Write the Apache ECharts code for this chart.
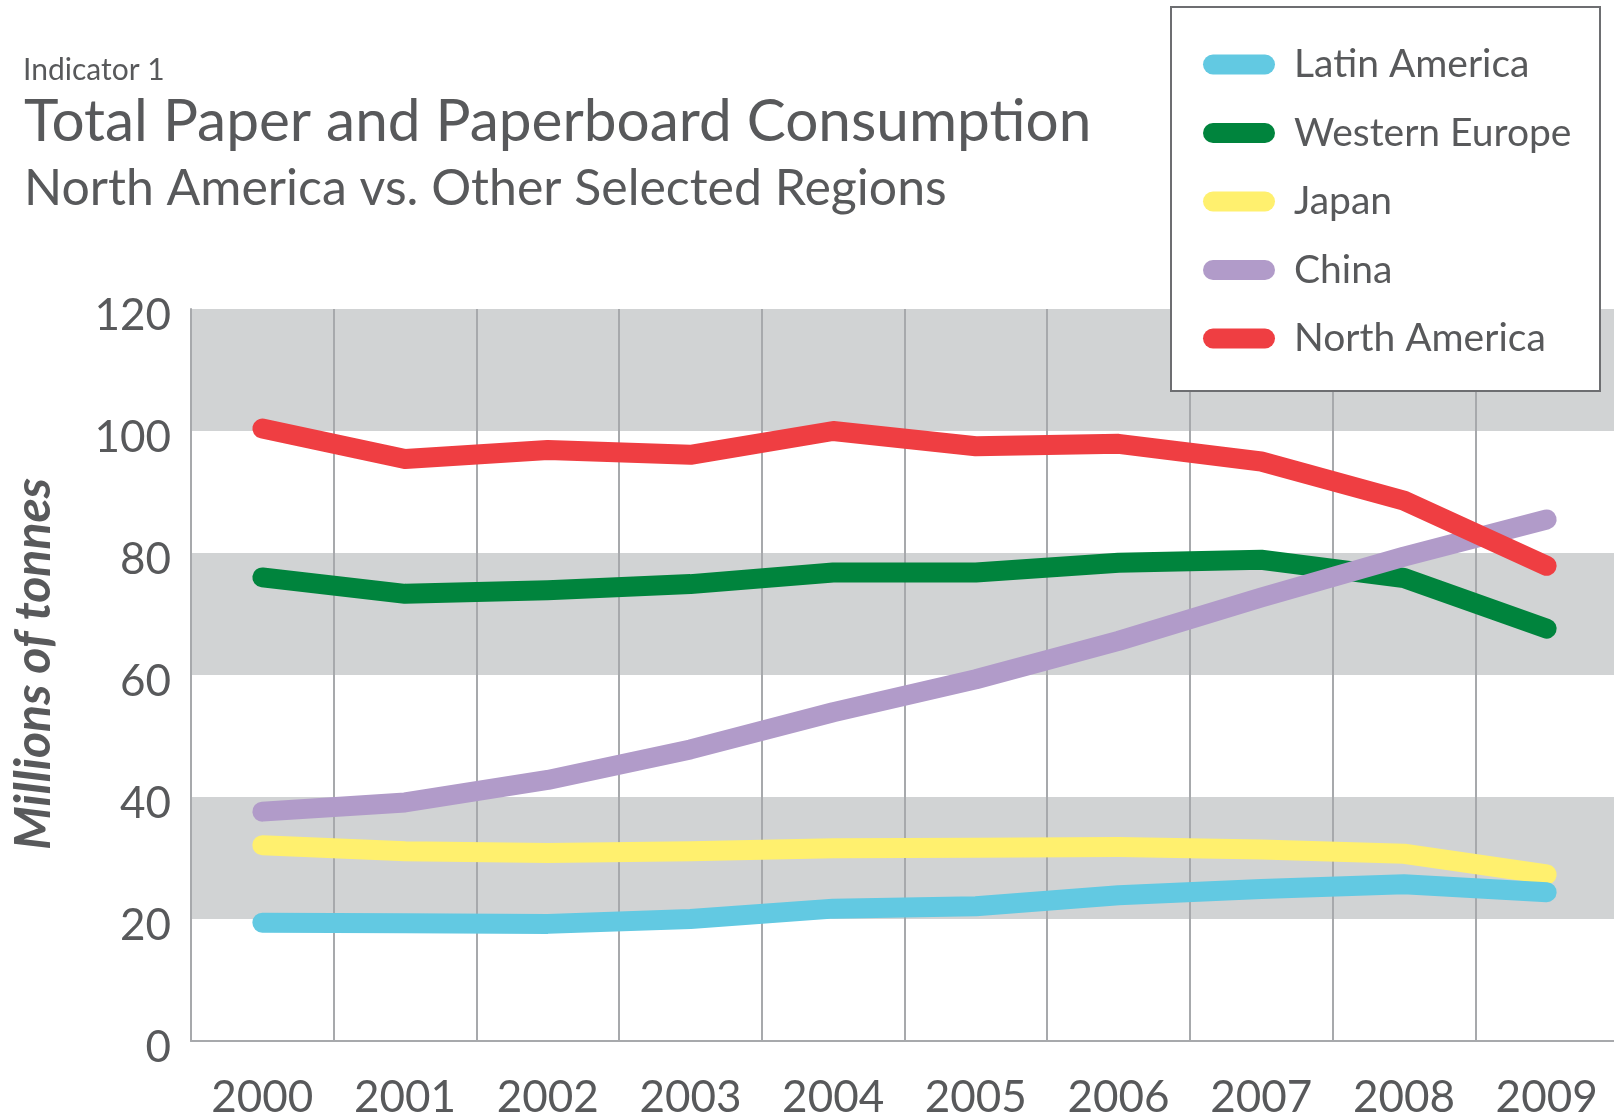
<!DOCTYPE html>
<html>
<head>
<meta charset="utf-8">
<title>Total Paper and Paperboard Consumption</title>
<script src="https://cdnjs.cloudflare.com/ajax/libs/echarts/6.0.0/echarts.min.js"></script>
<style>
  html, body { margin: 0; padding: 0; background: #fff; }
  #chart { width: 1614px; height: 1116px; }
</style>
</head>
<body>
<div id="chart"></div>
<script>
  // values, millions of tonnes
  var years = ['2000', '2001', '2002', '2003', '2004', '2005', '2006', '2007', '2008', '2009'];
  var latinAmerica = [19.4, 19.3, 19.2, 20.0, 21.7, 22.1, 23.9, 24.9, 25.7, 24.4];
  var westernEurope = [76.0, 73.3, 73.9, 74.9, 76.8, 76.8, 78.4, 78.9, 75.9, 67.6];
  var japan = [32.1, 31.1, 30.8, 31.1, 31.6, 31.7, 31.8, 31.4, 30.7, 27.3];
  var china = [37.6, 39.1, 42.8, 47.8, 53.9, 59.3, 65.6, 72.7, 79.4, 85.5];
  var northAmerica = [100.4, 95.4, 96.9, 96.1, 100.0, 97.5, 97.9, 95.0, 88.6, 77.9];

  var TEXT = '#58595b';
  var FONT = 'Lato, "Open Sans", sans-serif';
  var PILL = 'path://M10,0 L62,0 A10,10 0 0 1 62,20 L10,20 A10,10 0 0 1 10,0 Z';

  function line(name, data, color, z) {
    return {
      type: 'line',
      name: name,
      data: data,
      z: z,
      showSymbol: false,
      symbol: 'none',
      itemStyle: { color: color },
      lineStyle: { width: 20, color: color, cap: 'round', join: 'round' }
    };
  }

  var chart = echarts.init(document.getElementById('chart'), null, { renderer: 'canvas' });
  chart.setOption({
    backgroundColor: '#ffffff',
    animation: false,
    textStyle: { fontFamily: FONT, color: TEXT },
    title: [
      { text: 'Indicator 1', left: 18, top: 50,
        textStyle: { fontFamily: FONT, fontWeight: 'normal', fontSize: 30, color: TEXT } },
      { text: 'Total Paper and Paperboard Consumption', left: 19, top: 88,
        textStyle: { fontFamily: FONT, fontWeight: 'normal', fontSize: 58.5, color: TEXT } },
      { text: 'North America vs. Other Selected Regions', left: 19, top: 159,
        textStyle: { fontFamily: FONT, fontWeight: 'normal', fontSize: 50, color: TEXT } }
    ],
    graphic: [
      { type: 'rect', z: 10, shape: { x: 1171, y: 7, width: 429, height: 384 },
        style: { fill: '#ffffff', stroke: '#6d6e71', lineWidth: 2 } },
      { type: 'text', z: 10, x: 34, y: 664, rotation: Math.PI / 2,
        style: { text: 'Millions of tonnes', fill: TEXT, fontFamily: FONT, fontStyle: 'italic',
                 fontWeight: 'bold', fontSize: 50, textAlign: 'center', textVerticalAlign: 'middle' } }
    ],
    legend: {
      orient: 'vertical',
      left: 1203,
      top: 45,
      padding: 0,
      z: 20,
      icon: PILL,
      itemWidth: 72,
      itemHeight: 20,
      itemGap: 29.5,
      textStyle: { fontFamily: FONT, fontSize: 39, color: TEXT, padding: [0, 0, 0, 14], lineHeight: 39 },
      data: ['Latin America', 'Western Europe', 'Japan', 'China', 'North America']
    },
    grid: { left: 191, top: 309, width: 1427, height: 732, containLabel: false, outerBoundsMode: 'none' },
    xAxis: {
      type: 'category',
      data: years,
      boundaryGap: true,
      axisLine: { lineStyle: { color: '#a7a9ac', width: 2 } },
      axisTick: { show: false },
      axisLabel: { fontFamily: FONT, fontSize: 44, color: TEXT, margin: 35 },
      splitLine: { show: true, lineStyle: { color: '#a7a9ac', width: 2 } }
    },
    yAxis: {
      type: 'value',
      min: 0,
      max: 120,
      interval: 20,
      axisLine: { show: true, lineStyle: { color: '#a7a9ac', width: 2 } },
      axisTick: { show: false },
      axisLabel: {
        margin: 20,
        formatter: '{v|{value}}',
        rich: { v: { fontFamily: FONT, fontSize: 44, color: TEXT, padding: [14, 0, 0, 0] } }
      },
      splitLine: { show: false },
      splitArea: { show: true, areaStyle: { color: ['#ffffff', '#d1d3d4'] } }
    },
    series: [
      line('Latin America', latinAmerica, '#62c9e2', 3),
      line('Western Europe', westernEurope, '#00843d', 4),
      line('Japan', japan, '#fff06e', 2),
      line('China', china, '#b19bc9', 5),
      line('North America', northAmerica, '#ef3e42', 6)
    ]
  });
</script>
</body>
</html>
